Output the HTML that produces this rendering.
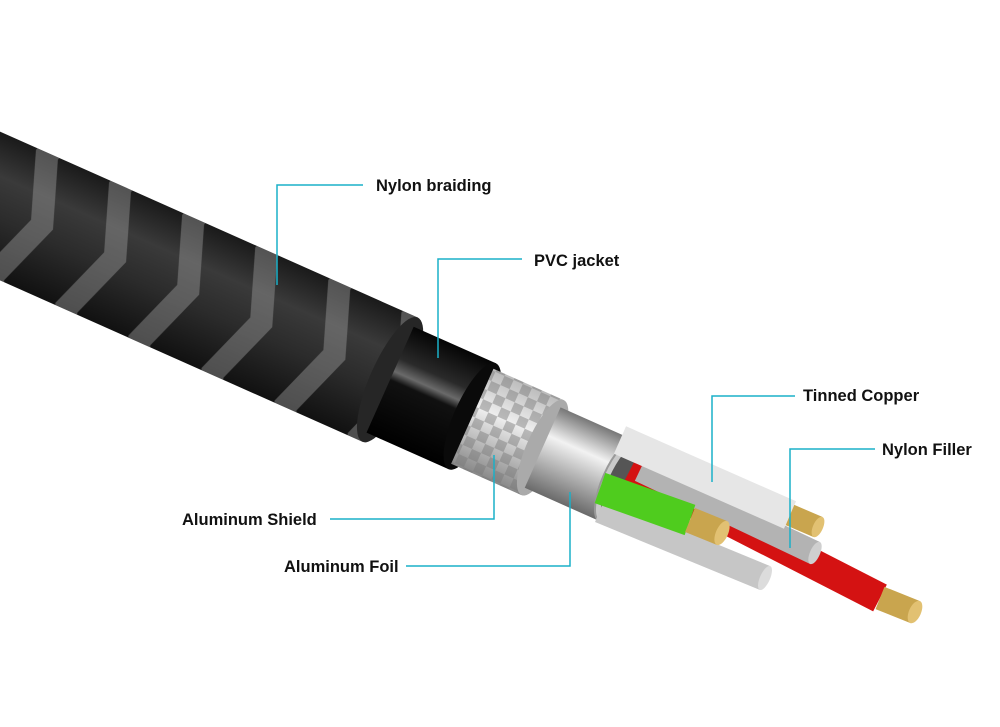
<!DOCTYPE html>
<html><head><meta charset="utf-8"><style>
html,body{margin:0;padding:0;background:#fff;}
svg{display:block;}
text{font-family:"Liberation Sans",Arial,sans-serif;font-weight:bold;font-size:16.5px;fill:#111;}
</style></head><body>
<svg width="1000" height="727" viewBox="0 0 1000 727" xmlns="http://www.w3.org/2000/svg">
<defs>
<linearGradient id="gBraid" x1="0" y1="0" x2="0" y2="1">
<stop offset="0" stop-color="#1a1a1a"/><stop offset="0.3" stop-color="#3a3a3a"/><stop offset="0.6" stop-color="#2b2b2b"/><stop offset="1" stop-color="#111"/></linearGradient>
<pattern id="pBraid" patternUnits="userSpaceOnUse" width="80" height="132" x="0" y="-66">
<path d="M10,0 L34,0 L58,66 L34,132 L10,132 L34,66 Z" fill="#9a9a9a" opacity="0.45"/>
</pattern>
<linearGradient id="gJacket" x1="0" y1="0" x2="0" y2="1">
<stop offset="0" stop-color="#050505"/><stop offset="0.3" stop-color="#2a2a2a"/><stop offset="0.42" stop-color="#6a6a6a"/><stop offset="0.5" stop-color="#111"/><stop offset="1" stop-color="#000"/></linearGradient>
<linearGradient id="gShield" x1="0" y1="0" x2="0" y2="1">
<stop offset="0" stop-color="#bbb"/><stop offset="0.4" stop-color="#eee"/><stop offset="1" stop-color="#888"/></linearGradient>
<pattern id="pShield" patternUnits="userSpaceOnUse" width="20" height="20">
<rect width="10" height="10" fill="#777" opacity="0.45"/><rect x="10" y="10" width="10" height="10" fill="#777" opacity="0.45"/>
</pattern>
<linearGradient id="gFoil" x1="0" y1="0" x2="0" y2="1">
<stop offset="0" stop-color="#777"/><stop offset="0.35" stop-color="#f2f2f2"/><stop offset="0.6" stop-color="#bdbdbd"/><stop offset="1" stop-color="#6a6a6a"/></linearGradient>
</defs>

<g transform="translate(0,206) rotate(24)">
  <rect x="-120" y="-68" width="547" height="136" fill="url(#gBraid)"/>
  <rect x="-120" y="-68" width="547" height="136" fill="url(#pBraid)"/>
  <ellipse cx="427" cy="0" rx="20" ry="68" fill="#262626"/>
  <rect x="427" y="-58" width="90" height="116" fill="url(#gJacket)"/>
  <ellipse cx="517" cy="0" rx="18" ry="58" fill="#0a0a0a"/>
  <rect x="517" y="-52" width="77" height="104" fill="url(#gShield)"/>
  <rect x="517" y="-52" width="77" height="104" fill="url(#pShield)"/>
  <ellipse cx="594" cy="0" rx="16" ry="52" fill="#aaa"/>
  <rect x="594" y="-44" width="82" height="88" fill="url(#gFoil)"/>
  <ellipse cx="676" cy="0" rx="15" ry="44" fill="#c9c9c9" stroke="#999" stroke-width="2"/>
  <ellipse cx="678" cy="0" rx="11" ry="38" fill="#555"/>
</g>

<g stroke-linecap="butt">
  <line x1="630" y1="470" x2="880" y2="598" stroke="#d41212" stroke-width="30"/>
  <line x1="880" y1="598" x2="915" y2="612" stroke="#c9a54e" stroke-width="24"/>
  <ellipse cx="915" cy="612" rx="6" ry="12" transform="rotate(24 915 612)" fill="#e2c172"/>
  <line x1="640" y1="470" x2="815" y2="553" stroke="#b3b3b3" stroke-width="24"/>
  <ellipse cx="815" cy="553" rx="5" ry="12" transform="rotate(24 815 553)" fill="#cfcfcf"/>
  <line x1="620" y1="440" x2="790" y2="515" stroke="#e6e6e6" stroke-width="30"/>
  <line x1="790" y1="515" x2="818" y2="527" stroke="#c9a54e" stroke-width="22"/>
  <ellipse cx="818" cy="527" rx="5" ry="11" transform="rotate(24 818 527)" fill="#e2c172"/>
  <line x1="600" y1="510" x2="765" y2="578" stroke="#c6c6c6" stroke-width="26"/>
  <ellipse cx="765" cy="578" rx="5" ry="13" transform="rotate(24 765 578)" fill="#dcdcdc"/>
  <line x1="600" y1="488" x2="690" y2="520" stroke="#4fcc1e" stroke-width="32"/>
  <line x1="690" y1="520" x2="722" y2="533" stroke="#c9a54e" stroke-width="26"/>
  <ellipse cx="722" cy="533" rx="6" ry="13" transform="rotate(24 722 533)" fill="#e2c172"/>
</g>

<g stroke="#1ab0c8" stroke-width="1.5" fill="none">
  <polyline points="363,185 277,185 277,285"/>
  <polyline points="522,259 438,259 438,358"/>
  <polyline points="795,396 712,396 712,482"/>
  <polyline points="875,449 790,449 790,548"/>
  <polyline points="330,519 494,519 494,455"/>
  <polyline points="406,566 570,566 570,492"/>
</g>
<text x="376" y="191">Nylon braiding</text>
<text x="534" y="266">PVC jacket</text>
<text x="803" y="401">Tinned Copper</text>
<text x="882" y="455">Nylon Filler</text>
<text x="182" y="525">Aluminum Shield</text>
<text x="284" y="572">Aluminum Foil</text>
</svg>
</body></html>
